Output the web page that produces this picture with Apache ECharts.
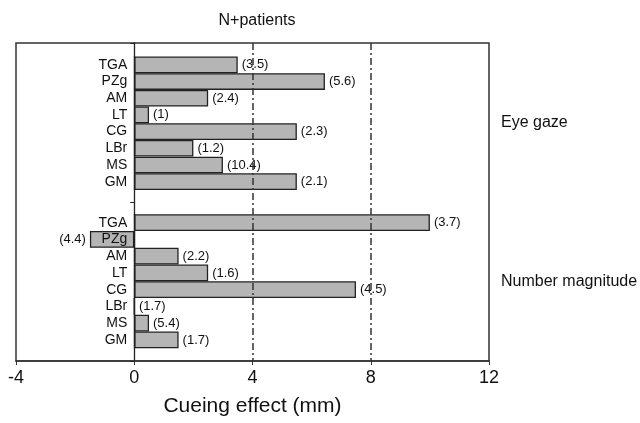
<!DOCTYPE html>
<html>
<head>
<meta charset="utf-8">
<script src="https://cdn.jsdelivr.net/npm/echarts@6/dist/echarts.min.js"></script>
<style>
	html, body { margin: 0; padding: 0; background: #fff; }
	#container { width: 640px; height: 423px; }
</style>
</head>
<body>
<div id="container"></div>
<script>
// datos
var conditions = ['Eye gaze', 'Number magnitude'];
var patients = ['TGA', 'PZg', 'AM', 'LT', 'CG', 'LBr', 'MS', 'GM'];
var eyeGaze = [3.5, 6.45, 2.5, 0.5, 5.5, 2.0, 3.0, 5.5];
var eyeGazeLabels = ['3.5', '5.6', '2.4', '1', '2.3', '1.2', '10.4', '2.1'];
var numberMag = [10.0, -1.5, 1.5, 2.5, 7.5, 0, 0.5, 1.5];
var numberMagLabels = ['3.7', '4.4', '2.2', '1.6', '4.5', '1.7', '5.4', '1.7'];
var xTicks = { min: -4, max: 12, interval: 4 };
var refLines = [4, 8];

var fontFam = '"Liberation Sans", Arial, Helvetica, sans-serif';

var gridLeft = 16, gridRight = 151, chartWidth = 640;
var plotWidth = chartWidth - gridLeft - gridRight;
// desplazamiento del eje de categorias hasta x = 0
var zeroOffset = -plotWidth * (0 - xTicks.min) / (xTicks.max - xTicks.min);

function barData(values, labels) {
	return values.map(function (v, i) {
		var item = { value: v, label: { formatter: '(' + labels[i] + ')' } };
		if (v < 0) item.label.position = 'left';
		return item;
	});
}

function barSeries(values, labels, idx) {
	return {
		type: 'bar',
		xAxisIndex: idx,
		yAxisIndex: idx + 1,
		barCategoryGap: '0%',
		data: barData(values, labels),
		itemStyle: { color: '#b5b5b5', borderColor: '#222', borderWidth: 1.3 },
		label: {
			show: true,
			position: 'right',
			distance: 4,
			color: '#111',
			fontSize: 13,
			fontFamily: fontFam
		},
		silent: true,
		animation: false
	};
}

function hiddenX(i) {
	return {
		type: 'value', gridIndex: i,
		min: xTicks.min, max: xTicks.max, interval: xTicks.interval,
		show: false
	};
}

function patientAxis(i) {
	return {
		type: 'category', gridIndex: i, inverse: true, data: patients,
		position: 'left',
		offset: zeroOffset,
		z: 10,
		axisLine: { show: true, onZero: false, lineStyle: { color: '#222', width: 1.3 } },
		axisTick: { show: false },
		axisLabel: { interval: 0, color: '#111', fontSize: 14, margin: 7, fontFamily: fontFam }
	};
}

var dom = document.getElementById('container');
var myChart = echarts.init(dom, null, { renderer: 'canvas' });

var option = {
	animation: false,
	backgroundColor: '#fff',
	title: {
		text: 'N+patients',
		left: 252,
		top: 8,
		textAlign: 'center',
		textStyle: { fontSize: 16, fontWeight: 'normal', color: '#111', fontFamily: fontFam }
	},
	grid: [
		{ left: gridLeft, right: gridRight, top: 43, bottom: 62, show: true, borderColor: '#333', borderWidth: 1.5, containLabel: false, outerBoundsMode: 'none' },
		{ left: gridLeft, right: gridRight, top: 56.5, height: 133.5, containLabel: false, outerBoundsMode: 'none' },
		{ left: gridLeft, right: gridRight, top: 214.3, height: 134, containLabel: false, outerBoundsMode: 'none' }
	],
	xAxis: [
		{
			type: 'value', gridIndex: 0,
			min: xTicks.min, max: xTicks.max, interval: xTicks.interval,
			axisLine: { show: true, onZero: false, lineStyle: { color: '#333', width: 1.5 } },
			axisTick: { show: true, length: 4, lineStyle: { color: '#333' } },
			axisLabel: { color: '#111', fontSize: 18, margin: 8, fontFamily: fontFam },
			splitLine: { show: false },
			name: 'Cueing effect (mm)',
			nameLocation: 'middle',
			nameGap: 35,
			nameTextStyle: { color: '#111', fontSize: 21, fontFamily: fontFam }
		},
		hiddenX(1),
		hiddenX(2)
	],
	yAxis: [
		{
			type: 'category', gridIndex: 0, data: conditions, position: 'right', inverse: true,
			axisLine: { show: false, onZero: false },
			axisTick: { show: false },
			axisLabel: { color: '#111', fontSize: 16, margin: 12, fontFamily: fontFam }
		},
		{
			type: 'category', gridIndex: 0, data: conditions, position: 'left', inverse: true,
			axisLine: { show: true, onZero: true, lineStyle: { color: '#222', width: 1.3 } },
			axisTick: { show: true, length: 4, lineStyle: { color: '#222' } },
			axisLabel: { show: false }
		},
		patientAxis(1),
		patientAxis(2)
	],
	series: [
		{
			type: 'line',
			xAxisIndex: 0,
			yAxisIndex: 0,
			data: [],
			silent: true,
			markLine: {
				silent: true,
				symbol: 'none',
				label: { show: false },
				lineStyle: { color: '#333', width: 1.5, type: [7, 3, 2, 3] },
				data: refLines.map(function (v) { return { xAxis: v }; })
			}
		},
		barSeries(eyeGaze, eyeGazeLabels, 1),
		barSeries(numberMag, numberMagLabels, 2)
	]
};

myChart.setOption(option, true);
</script>
</body>
</html>
